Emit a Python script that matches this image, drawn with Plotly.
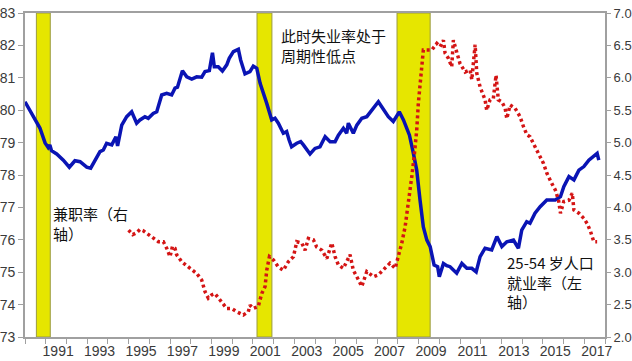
import plotly.graph_objects as go

# 25-54 employment rate (left axis, %)
emp_year = [1990.00, 1990.24, 1990.72, 1990.97, 1991.12, 1991.20, 1991.28, 1991.53, 1991.85, 1992.14,
            1992.41, 1992.66, 1992.98, 1993.17, 1993.38, 1993.62, 1993.78, 1993.94, 1994.19, 1994.39,
            1994.47, 1994.67, 1994.91, 1995.15, 1995.39, 1995.55, 1995.79, 1995.95, 1996.19, 1996.36,
            1996.60, 1996.84, 1997.08, 1997.24, 1997.36, 1997.60, 1997.81, 1998.05, 1998.29, 1998.53,
            1998.69, 1998.90, 1999.05, 1999.14, 1999.33, 1999.53, 1999.74, 1999.86, 2000.06, 2000.30,
            2000.41, 2000.62, 2000.86, 2001.02, 2001.19, 2001.35, 2001.67, 2001.91, 2002.07, 2002.23,
            2002.47, 2002.63, 2002.75, 2002.87, 2003.12, 2003.31, 2003.44, 2003.76, 2004.00, 2004.24,
            2004.49, 2004.73, 2004.97, 2005.13, 2005.37, 2005.53, 2005.61, 2005.85, 2006.02, 2006.26,
            2006.50, 2006.79, 2007.06, 2007.22, 2007.54, 2007.78, 2008.07, 2008.27, 2008.56, 2008.75,
            2008.91, 2009.07, 2009.23, 2009.40, 2009.56, 2009.75, 2009.92, 2010.00, 2010.20, 2010.36,
            2010.52, 2010.84, 2011.09, 2011.33, 2011.57, 2011.78, 2011.97, 2012.21, 2012.53, 2012.78,
            2013.02, 2013.26, 2013.58, 2013.82, 2013.98, 2014.22, 2014.38, 2014.62, 2014.87, 2015.19,
            2015.60, 2015.85, 2016.01, 2016.26, 2016.50, 2016.74, 2016.98, 2017.22, 2017.46, 2017.62,
            2017.70]
emp_rate = [80.26, 80.00, 79.45, 78.99, 78.85, 78.93, 78.75, 78.65, 78.46, 78.24,
            78.44, 78.41, 78.24, 78.21, 78.46, 78.72, 78.77, 78.98, 78.93, 79.18,
            78.90, 79.54, 79.80, 79.95, 79.60, 79.70, 79.80, 79.75, 79.90, 79.95,
            80.47, 80.52, 80.47, 80.68, 80.71, 81.22, 81.03, 80.96, 81.03, 81.02,
            81.19, 81.22, 81.77, 81.34, 81.34, 81.21, 81.40, 81.60, 81.81, 81.88,
            81.55, 81.12, 81.19, 81.36, 81.29, 80.83, 80.21, 79.70, 79.75, 79.60,
            79.29, 79.34, 79.08, 78.87, 78.98, 79.03, 78.93, 78.65, 78.82, 78.87,
            79.18, 79.03, 79.03, 79.23, 79.44, 79.29, 79.60, 79.29, 79.54, 79.75,
            79.80, 80.06, 80.26, 80.11, 79.80, 79.65, 79.95, 79.70, 79.23, 78.67,
            78.15, 77.23, 76.40, 75.99, 75.79, 75.22, 75.17, 74.86, 75.27, 75.20,
            75.17, 74.97, 75.27, 75.12, 75.12, 75.01, 75.48, 75.74, 75.69, 76.10,
            75.79, 75.94, 75.99, 75.74, 76.30, 76.56, 76.51, 76.82, 77.02, 77.23,
            77.23, 77.33, 77.64, 77.95, 77.85, 78.15, 78.26, 78.46, 78.57, 78.67,
            78.46]

# Part-time share (right axis, %)
pt_year = [1995.00, 1995.20, 1995.39, 1995.55, 1995.71, 1996.04, 1996.25, 1996.44, 1996.68, 1996.84,
           1997.00, 1997.12, 1997.24, 1997.32, 1997.57, 1997.97, 1998.29, 1998.53, 1998.69, 1998.85,
           1999.01, 1999.17, 1999.42, 1999.74, 1999.98, 2000.22, 2000.54, 2000.78, 2000.86, 2001.02,
           2001.26, 2001.43, 2001.59, 2001.67, 2001.80, 2001.99, 2002.23, 2002.47, 2002.71, 2002.96,
           2003.12, 2003.36, 2003.52, 2003.68, 2003.92, 2004.08, 2004.33, 2004.57, 2004.81, 2004.97,
           2005.13, 2005.37, 2005.69, 2005.85, 2006.02, 2006.26, 2006.50, 2006.82, 2007.06, 2007.38,
           2007.62, 2007.87, 2008.03, 2008.19, 2008.35, 2008.51, 2008.67, 2008.80, 2008.91, 2008.99,
           2009.10, 2009.23, 2009.40, 2009.64, 2009.88, 2010.04, 2010.20, 2010.28, 2010.44, 2010.60,
           2010.68, 2010.84, 2011.00, 2011.25, 2011.49, 2011.57, 2011.73, 2011.81, 2011.97, 2012.21,
           2012.29, 2012.45, 2012.61, 2012.74, 2012.85, 2013.02, 2013.18, 2013.26, 2013.42, 2013.66,
           2013.90, 2014.06, 2014.23, 2014.38, 2014.55, 2014.79, 2015.03, 2015.19, 2015.43, 2015.60,
           2015.76, 2015.85, 2016.01, 2016.26, 2016.42, 2016.50, 2016.74, 2016.98, 2017.14, 2017.30,
           2017.46, 2017.62]
pt_rate = [3.65, 3.58, 3.61, 3.66, 3.64, 3.57, 3.52, 3.47, 3.47, 3.37,
           3.24, 3.40, 3.37, 3.27, 3.16, 3.06, 2.98, 2.88, 2.70, 2.60,
           2.65, 2.67, 2.57, 2.44, 2.44, 2.39, 2.34, 2.39, 2.49, 2.44,
           2.47, 2.67, 2.78, 3.03, 3.24, 3.19, 3.08, 3.03, 3.16, 3.24,
           3.47, 3.45, 3.34, 3.52, 3.50, 3.39, 3.34, 3.21, 3.45, 3.24,
           3.11, 3.06, 3.27, 3.03, 2.93, 2.78, 3.01, 2.93, 2.96, 3.06,
           3.14, 3.06, 3.24, 3.45, 3.70, 4.06, 4.47, 4.83, 5.19, 5.61,
           6.02, 6.43, 6.43, 6.43, 6.53, 6.48, 6.58, 6.38, 6.30, 6.17,
           6.58, 6.38, 6.22, 6.09, 6.12, 5.97, 6.51, 6.07, 5.86, 5.66,
           5.50, 5.66, 5.68, 6.04, 5.66, 5.63, 5.53, 5.37, 5.58, 5.53,
           5.40, 5.25, 5.12, 5.09, 4.99, 4.83, 4.68, 4.53, 4.37, 4.27,
           4.11, 3.91, 4.09, 4.11, 4.22, 3.96, 3.91, 3.83, 3.75, 3.63,
           3.47, 3.47]

# Recessions (decimal years)
rec_start = [1990.55, 2001.20, 2007.96]
rec_end = [1991.22, 2001.92, 2009.56]

# Axis labels
x_label_years = list(range(1991, 2018, 2))
x_tick_labels = [str(y) for y in x_label_years]
left_ticks = list(range(73, 84))
right_ticks = [2.0, 2.5, 3.0, 3.5, 4.0, 4.5, 5.0, 5.5, 6.0, 6.5, 7.0]

fig = go.Figure()

fig.add_trace(go.Scatter(x=emp_year, y=emp_rate, mode="lines",
                         line=dict(color="#0a14b4", width=3.5), yaxis="y",
                         showlegend=False, hoverinfo="skip"))
fig.add_trace(go.Scatter(x=pt_year, y=pt_rate, mode="lines",
                         line=dict(color="#d41414", width=3.5, dash="3px,3px"), yaxis="y2",
                         showlegend=False, hoverinfo="skip"))

for s, e in zip(rec_start, rec_end):
    fig.add_shape(type="rect", xref="x", yref="paper", x0=s, x1=e, y0=0, y1=1,
                  fillcolor="#e6e600", line=dict(color="#9a9a40", width=1), layer="below")

axis_gray = "#a0a0a0"
tick_font = dict(family="Liberation Sans, Arial, sans-serif", size=14, color="#3a3a3a")
tick_font_r = dict(family="Liberation Sans, Arial, sans-serif", size=13, color="#3a3a3a")

fig.update_layout(
    width=632, height=361,
    margin=dict(l=25, r=27, t=13, b=24, autoexpand=False),
    paper_bgcolor="white", plot_bgcolor="white",
    xaxis=dict(range=[1990, 2018], showgrid=False, zeroline=False, automargin=False,
               tickmode="array", tickvals=[y + 0.6 for y in x_label_years], ticktext=x_tick_labels,
               ticks="", tickfont=tick_font,
               minor=dict(tickmode="linear", tick0=1990, dtick=1, ticks="outside", ticklen=5,
                          tickcolor=axis_gray, tickwidth=1, showgrid=False),
               showline=True, linecolor=axis_gray, linewidth=2, mirror=True),
    yaxis=dict(range=[73, 83], tickmode="array", tickvals=left_ticks, showgrid=False, zeroline=False,
               automargin=False,
               ticks="outside", ticklen=5, tickcolor=axis_gray, tickfont=tick_font,
               showline=True, linecolor=axis_gray, linewidth=2),
    yaxis2=dict(range=[2, 7], overlaying="y", side="right", tickmode="array", tickvals=right_ticks,
                tickformat=".1f", showgrid=False, zeroline=False, automargin=False,
                ticks="outside", ticklen=4, tickcolor=axis_gray, tickfont=tick_font_r,
                showline=True, linecolor=axis_gray, linewidth=2),
)

cjk = dict(family="Noto Sans CJK SC", size=15, color="#111111")
fig.add_annotation(xref="paper", yref="paper", x=0.438, y=0.968, xanchor="left", yanchor="top",
                   text="此时失业率处于<br>周期性低点", showarrow=False, align="left", font=cjk)
fig.add_annotation(xref="paper", yref="paper", x=0.045, y=0.42, xanchor="left", yanchor="top",
                   text="兼职率（右<br>轴）", showarrow=False, align="left", font=cjk)
fig.add_annotation(xref="paper", yref="paper", x=0.828, y=0.268, xanchor="left", yanchor="top",
                   text="25-54 岁人口<br>就业率（左<br>轴）", showarrow=False, align="left", font=cjk)

fig.write_html("out.html", config={"displayModeBar": False},
               post_script="document.body.style.margin='0';document.body.style.padding='0';"
                           "document.documentElement.style.overflow='hidden';")
